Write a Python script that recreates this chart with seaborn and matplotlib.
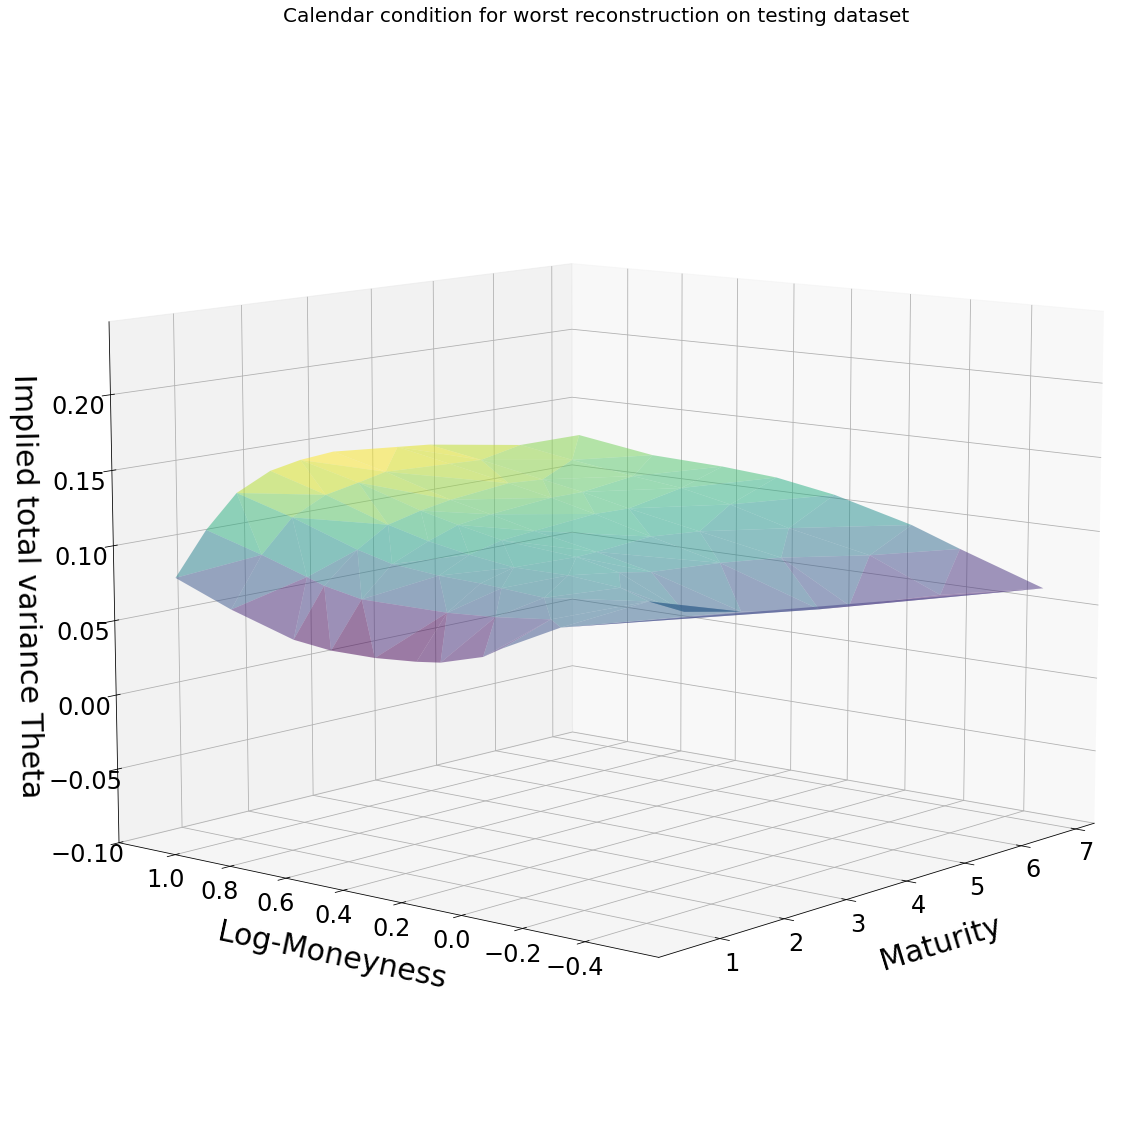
import seaborn as sns
import matplotlib
matplotlib.use('Agg')
import matplotlib.pyplot as plt

sns.set_theme(style='white')
plt.rcParams['font.family'] = ['DejaVu Sans']
plt.rcParams.update({'text.color': 'black', 'axes.labelcolor': 'black', 'xtick.color': 'black',
                     'ytick.color': 'black', 'axes.edgecolor': 'black', 'grid.color': '#b0b0b0',
                     'axes.linewidth': 0.8, 'grid.linewidth': 0.8, 'xtick.major.width': 0.8,
                     'ytick.major.width': 0.8})

# Maturity of each smile, with its log-moneyness points and theta values
maturities = [0.15, 0.6, 1.05, 1.55, 2.0, 2.5, 3.5, 4.0, 5.5, 6.5]
moneyness_rows = [
    [1.00, 0.80, 0.58, 0.45, 0.30, 0.16, 0.08, -0.06, -0.12, -0.31],
    [1.00, 0.80, 0.64, 0.58, 0.45, 0.16, 0.00, -0.18],
    [1.00, 0.80, 0.57, 0.45, 0.29, 0.15, 0.08, -0.06],
    [1.00, 0.80, 0.58, 0.44, 0.30, 0.15, -0.03, -0.20, -0.29],
    [1.00, 0.79, 0.57, 0.44, 0.29, 0.04, -0.10, -0.31],
    [1.00, 0.81, 0.58, 0.44, 0.29, 0.08, -0.10, -0.39],
    [1.00, 0.81, 0.60, 0.45, 0.30, 0.11, -0.12, -0.44],
    [1.00, 0.81, 0.59, 0.45, 0.29, 0.05, -0.22, -0.44],
    [1.00, 0.81, 0.59, 0.42, 0.25, 0.05, -0.22, -0.45],
    [1.00, 0.73, 0.48, 0.29, 0.09, -0.17, -0.33, -0.60],
]
theta_rows = [
    [0.084, 0.069, 0.056, 0.053, 0.053, 0.055, 0.057, 0.065, 0.072, 0.091],
    [0.112, 0.101, 0.091, 0.087, 0.082, 0.082, 0.084, 0.088],
    [0.133, 0.122, 0.107, 0.101, 0.098, 0.097, 0.096, 0.094],
    [0.144, 0.133, 0.119, 0.112, 0.107, 0.103, 0.103, 0.100, 0.094],
    [0.148, 0.138, 0.125, 0.119, 0.113, 0.109, 0.103, 0.084],
    [0.150, 0.141, 0.128, 0.122, 0.115, 0.107, 0.099, 0.082],
    [0.146, 0.139, 0.131, 0.125, 0.118, 0.108, 0.097, 0.076],
    [0.144, 0.138, 0.130, 0.125, 0.118, 0.109, 0.099, 0.074],
    [0.133, 0.127, 0.121, 0.117, 0.110, 0.099, 0.088, 0.068],
    [0.133, 0.125, 0.123, 0.120, 0.113, 0.099, 0.087, 0.068],
]
maturity_ticks = [1, 2, 3, 4, 5, 6, 7]
moneyness_ticks = [-0.4, -0.2, 0.0, 0.2, 0.4, 0.6, 0.8, 1.0]
theta_ticks = [-0.10, -0.05, 0.00, 0.05, 0.10, 0.15, 0.20]

t_points, k_points, z_points = [], [], []
for t, ks, zs in zip(maturities, moneyness_rows, theta_rows):
    t_points += [t] * len(ks)
    k_points += ks
    z_points += zs

fig = plt.figure(figsize=(1147 / 72, 1146 / 72), dpi=72)
ax = fig.add_axes([0.046, 0.0095, 0.948, 0.948], projection='3d')
ax.set_proj_type('persp', focal_length=0.78)
ax.view_init(elev=10, azim=-140)
ax.plot_trisurf(t_points, k_points, z_points, cmap=sns.color_palette('viridis', as_cmap=True),
                alpha=0.5, linewidth=0)
ax.set_xlim(0.08, 7.35)
ax.set_ylim(-0.63, 1.21)
ax.set_zlim(-0.1, 0.248)
ax.set_xticks(maturity_ticks)
ax.set_yticks(moneyness_ticks)
ax.set_zticks(theta_ticks)
fig.text(0.52, 0.986, 'Calendar condition for worst reconstruction on testing dataset',
         fontsize=20, ha='center', va='center')
ax.set_xlabel('Maturity', fontsize=30, labelpad=29)
ax.set_ylabel('Log-Moneyness', fontsize=30, labelpad=28)
ax.set_zlabel('Implied total variance Theta', fontsize=30, labelpad=28)
ax.tick_params(labelsize=24)
ax.tick_params(axis='z', pad=10)
fig.savefig('out.png')
